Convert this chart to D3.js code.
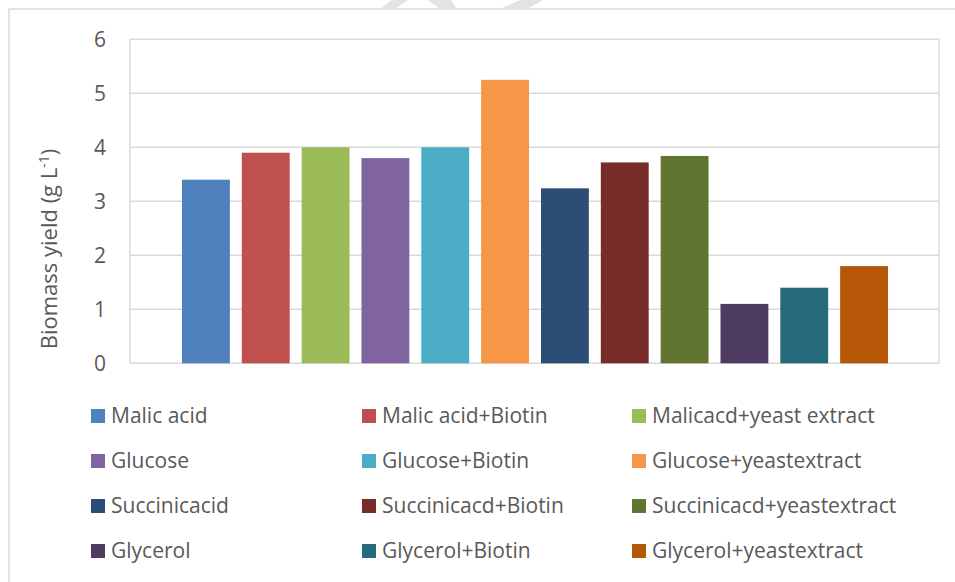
<!DOCTYPE html>
<html>
<head>
<meta charset="utf-8">
<script src="https://cdn.jsdelivr.net/npm/d3@7"></script>
<style>
  html, body { margin: 0; padding: 0; background: #fff; }
  #chart { width: 955px; height: 582px; }
  text { font-family: "Open Sans", sans-serif; fill: #595959; }
</style>
</head>
<body>
<div id="chart"></div>
<script>
// data
var series = [
  'Malic acid', 'Malic acid+Biotin', 'Malicacd+yeast extract',
  'Glucose', 'Glucose+Biotin', 'Glucose+yeastextract',
  'Succinicacid', 'Succinicacd+Biotin', 'Succinicacd+yeastextract',
  'Glycerol', 'Glycerol+Biotin', 'Glycerol+yeastextract'
];
var values = [3.4, 3.9, 4.0, 3.8, 4.0, 5.25, 3.24, 3.72, 3.84, 1.1, 1.4, 1.8];
var colors = [
  '#4f81bd', '#c0504d', '#9bbb59',
  '#8064a2', '#4bacc6', '#f79646',
  '#2c4d75', '#772c2a', '#5f7530',
  '#4d3b62', '#276a7c', '#b65708'
];
var yTicks = [0, 1, 2, 3, 4, 5, 6];

var width = 955,
    height = 582;

// plot area
var plot = {
  left: 130,
  right: 939,
  top: 39.3,
  bottom: 363.3
};

var svg = d3.select('#chart')
    .append('svg')
        .attr('width', width)
        .attr('height', height);

// outer chart border (cut off at right and bottom)
svg.append('rect')
    .attr('x', 9)
    .attr('y', 9)
    .attr('width', 1200)
    .attr('height', 1200)
    .attr('fill', 'none')
    .attr('stroke', '#d9d9d9')
    .attr('stroke-width', 1.5);

// faint watermark pieces above the border
var mark = svg.append('g')
    .attr('fill', '#e3e3e3');
mark.append('path')
    .attr('d', 'M380,9 L395,9 L408,0 L392,0 Z');
mark.append('path')
    .attr('d', 'M428,0 L451,0 L457,9 L440,9 Z');
mark.append('path')
    .attr('d', 'M500,9 L527,9 L543,0 L520,0 Z');

var y = d3.scaleLinear()
    .domain([0, 6])
    .range([plot.bottom, plot.top]);

var x = d3.scaleBand()
    .domain(series)
    .range([plot.left + 46, plot.right - 45])
    .paddingInner(0.2)
    .paddingOuter(0.1);

// gridlines
svg.append('g')
    .attr('class', 'grid')
    .selectAll('line')
    .data(yTicks)
    .enter()
    .append('line')
        .attr('x1', plot.left)
        .attr('x2', plot.right)
        .attr('y1', function(d) { return y(d); })
        .attr('y2', function(d) { return y(d); })
        .attr('stroke', '#d9d9d9')
        .attr('stroke-width', 1.5);

// plot area sides
svg.append('line')
    .attr('x1', plot.left)
    .attr('x2', plot.left)
    .attr('y1', plot.top)
    .attr('y2', plot.bottom)
    .attr('stroke', '#d9d9d9')
    .attr('stroke-width', 1.5);
svg.append('line')
    .attr('x1', plot.right)
    .attr('x2', plot.right)
    .attr('y1', plot.top)
    .attr('y2', plot.bottom)
    .attr('stroke', '#d9d9d9')
    .attr('stroke-width', 1.5);

// y axis labels
var yAxis = d3.axisLeft(y)
    .tickValues(yTicks)
    .tickFormat(d3.format('d'))
    .tickSize(0)
    .tickPadding(24);
var yAxisGroup = svg.append('g')
    .attr('transform', 'translate(' + plot.left + ',0)')
    .call(yAxis);
yAxisGroup.select('.domain').remove();
yAxisGroup.selectAll('text')
    .style('font-size', '21px')
    .style('font-family', '"Open Sans", sans-serif')
    .attr('fill', '#595959');

// y axis title
var yTitle = svg.append('text')
    .attr('transform', 'translate(57,249) rotate(-90)')
    .style('text-anchor', 'middle')
    .style('font-size', '22px');
yTitle.append('tspan')
    .text('Biomass yield (g L');
yTitle.append('tspan')
    .attr('dy', -8)
    .style('font-size', '14px')
    .text('-1');
yTitle.append('tspan')
    .attr('dy', 8)
    .text(')');

// bars
svg.append('g')
    .attr('class', 'bars')
    .selectAll('rect')
    .data(series)
    .enter()
    .append('rect')
        .attr('x', function(d) { return x(d); })
        .attr('y', function(d, i) { return y(values[i]); })
        .attr('width', x.bandwidth())
        .attr('height', function(d, i) { return y(0) - y(values[i]); })
        .attr('fill', function(d, i) { return colors[i]; });

// legend, 3 columns x 4 rows
var legendCols = [91, 362, 632],
    legendTop = 409,
    legendStep = 45;

var legend = svg.append('g')
    .attr('class', 'legend')
    .selectAll('g')
    .data(series)
    .enter()
    .append('g')
        .attr('transform', function(d, i) {
          return 'translate(' + legendCols[i % 3] + ','
              + (legendTop + Math.floor(i / 3) * legendStep) + ')';
        });

legend.append('rect')
    .attr('width', 14)
    .attr('height', 14)
    .attr('fill', function(d, i) { return colors[i]; });

legend.append('text')
    .attr('x', 20)
    .attr('y', 14)
    .style('font-size', '21px')
    .text(function(d) { return d; });
</script>
</body>
</html>
